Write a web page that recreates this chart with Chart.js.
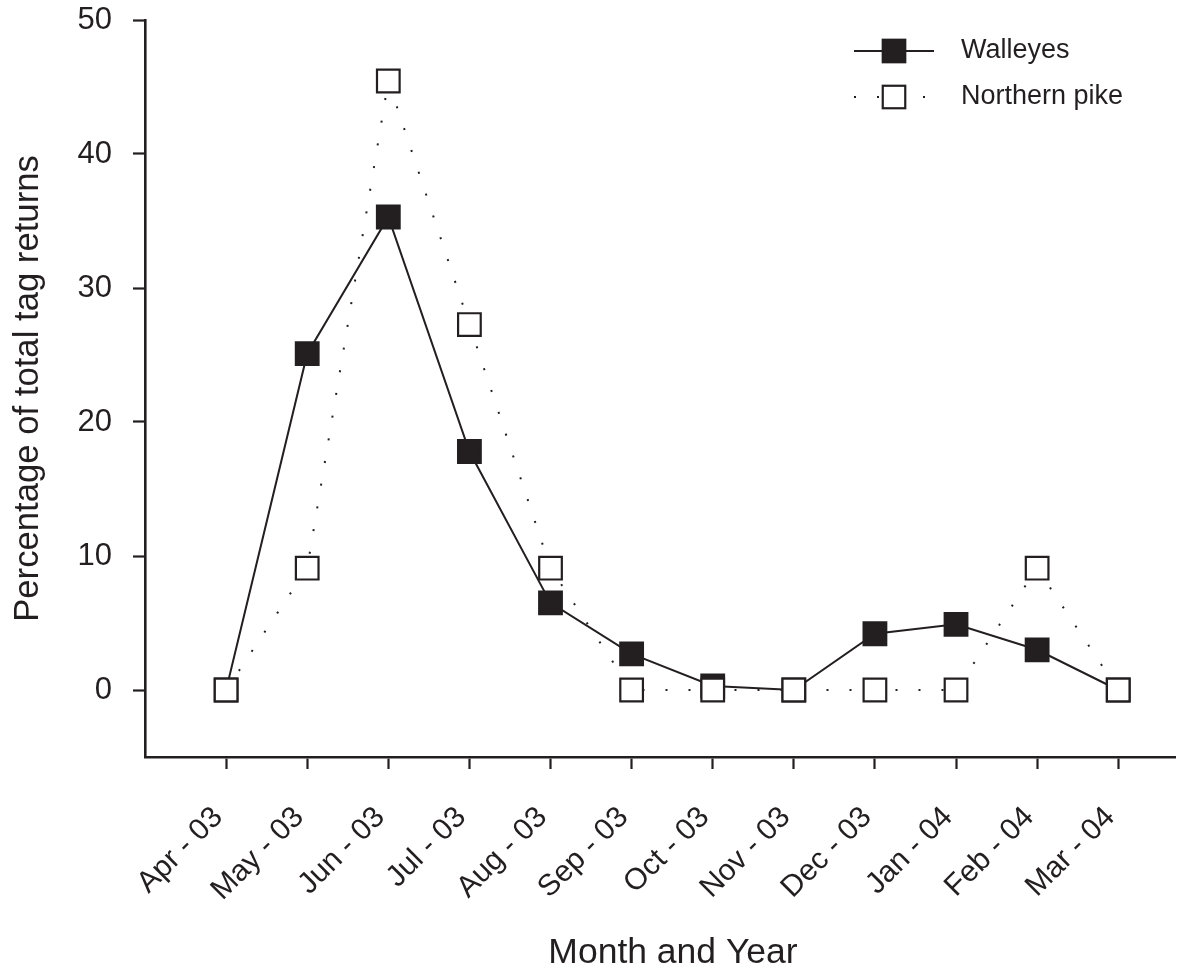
<!DOCTYPE html>
<html>
<head>
<meta charset="utf-8">
<script src="https://cdn.jsdelivr.net/npm/chart.js@4/dist/chart.umd.min.js"></script>
<style>
html,body{margin:0;padding:0;background:#ffffff;}
#wrap{width:1196px;height:972px;position:relative;}
</style>
</head>
<body>
<div id="wrap"><canvas id="c"></canvas></div>
<script>
// ---- data ----
const months = ['Apr - 03','May - 03','Jun - 03','Jul - 03','Aug - 03','Sep - 03','Oct - 03','Nov - 03','Dec - 03','Jan - 04','Feb - 04','Mar - 04'];
const walleyes = [0, 25.1, 35.3, 17.8, 6.5, 2.7, 0.3, 0, 4.2, 4.9, 3.0, 0];
const northernPike = [0, 9.09, 45.45, 27.27, 9.09, 0, 0, 0, 0, 0, 9.09, 0];
const yTicks = [0, 10, 20, 30, 40, 50];
const seriesNames = ['Walleyes', 'Northern pike'];
const xTitle = 'Month and Year';
const yTitle = 'Percentage of total tag returns';

const INK = '#231f20';
const FONT = "'Liberation Sans', Arial, Helvetica, sans-serif";

const toXY = arr => arr.map((v, i) => ({x: i, y: v}));

const legendPlugin = {
  id: 'insetLegend',
  afterDraw(chart) {
    const ctx = chart.ctx;
    const rows = [{ds: chart.data.datasets[0], y: 51}, {ds: chart.data.datasets[1], y: 97}];
    ctx.save();
    rows.forEach(r => {
      const ds = r.ds;
      ctx.strokeStyle = ds.borderColor;
      ctx.lineWidth = ds.borderWidth;
      ctx.setLineDash(ds.borderDash || []);
      ctx.beginPath();
      ctx.moveTo(854, r.y);
      ctx.lineTo(934, r.y);
      ctx.stroke();
      ctx.setLineDash([]);
      const s = 22.5;
      ctx.fillStyle = ds.pointBackgroundColor;
      ctx.fillRect(894 - s/2, r.y - s/2, s, s);
      ctx.lineWidth = ds.pointBorderWidth;
      ctx.strokeStyle = ds.pointBorderColor;
      ctx.strokeRect(894 - s/2, r.y - s/2, s, s);
      ctx.fillStyle = INK;
      ctx.font = '27px ' + FONT;
      ctx.textBaseline = 'middle';
      ctx.textAlign = 'left';
      ctx.fillText(ds.label, 961, r.y);
    });
    // x axis title, centred where the reference has it
    ctx.font = '35.5px ' + FONT;
    ctx.textAlign = 'center';
    ctx.textBaseline = 'alphabetic';
    ctx.fillText(xTitle, 673, 963);
    ctx.restore();
  }
};

new Chart(document.getElementById('c'), {
  type: 'line',
  data: {
    datasets: [
      {
        label: seriesNames[0],
        data: toXY(walleyes),
        order: 1,
        borderColor: INK,
        borderWidth: 2,
        pointStyle: 'rect',
        pointRadius: 16,
        pointBackgroundColor: INK,
        pointBorderColor: INK,
        pointBorderWidth: 2.2,
        tension: 0
      },
      {
        label: seriesNames[1],
        data: toXY(northernPike),
        order: 0,
        borderColor: INK,
        borderWidth: 2,
        borderDash: [2, 21],
        pointStyle: 'rect',
        pointRadius: 16,
        pointBackgroundColor: '#ffffff',
        pointBorderColor: INK,
        pointBorderWidth: 2.2,
        tension: 0
      }
    ]
  },
  options: {
    responsive: true,
    maintainAspectRatio: false,
    animation: false,
    devicePixelRatio: 1,
    layout: {padding: {top: 20, right: 21, left: 0, bottom: 0}},
    plugins: {
      legend: {display: false},
      tooltip: {enabled: false}
    },
    scales: {
      x: {
        type: 'linear',
        min: -1,
        max: 11.7,
        afterBuildTicks: s => { s.ticks = months.map((m, i) => ({value: i})); },
        afterFit: s => {
          s.height = 972 - 757;
          s.paddingLeft = 0; s.paddingRight = 0; s.paddingTop = 0; s.paddingBottom = 0;
        },
        ticks: {
          autoSkip: false,
          maxRotation: 45,
          minRotation: 45,
          padding: 31,
          labelOffset: -8,
          color: INK,
          font: {family: FONT, size: 30},
          callback: v => months[v]
        },
        grid: {display: true, drawOnChartArea: false, drawTicks: true, tickLength: 12, tickWidth: 2.2, color: INK},
        border: {display: true, width: 2.6, color: INK},
        title: {display: false, text: xTitle}
      },
      y: {
        type: 'linear',
        min: -5,
        max: 50,
        afterBuildTicks: s => { s.ticks = yTicks.map(v => ({value: v})); },
        afterFit: s => {
          s.width = 145;
          s.paddingLeft = 0; s.paddingRight = 0; s.paddingTop = 0; s.paddingBottom = 0;
        },
        ticks: {
          padding: 21,
          color: INK,
          font: {family: FONT, size: 31}
        },
        grid: {display: true, drawOnChartArea: false, drawTicks: true, tickLength: 12, tickWidth: 2.2, color: INK},
        border: {display: true, width: 2.6, color: INK},
        title: {display: true, text: yTitle, color: INK, font: {family: FONT, size: 34.7}, padding: {top: 8, bottom: 0}}
      }
    }
  },
  plugins: [legendPlugin]
});
</script>
</body>
</html>
